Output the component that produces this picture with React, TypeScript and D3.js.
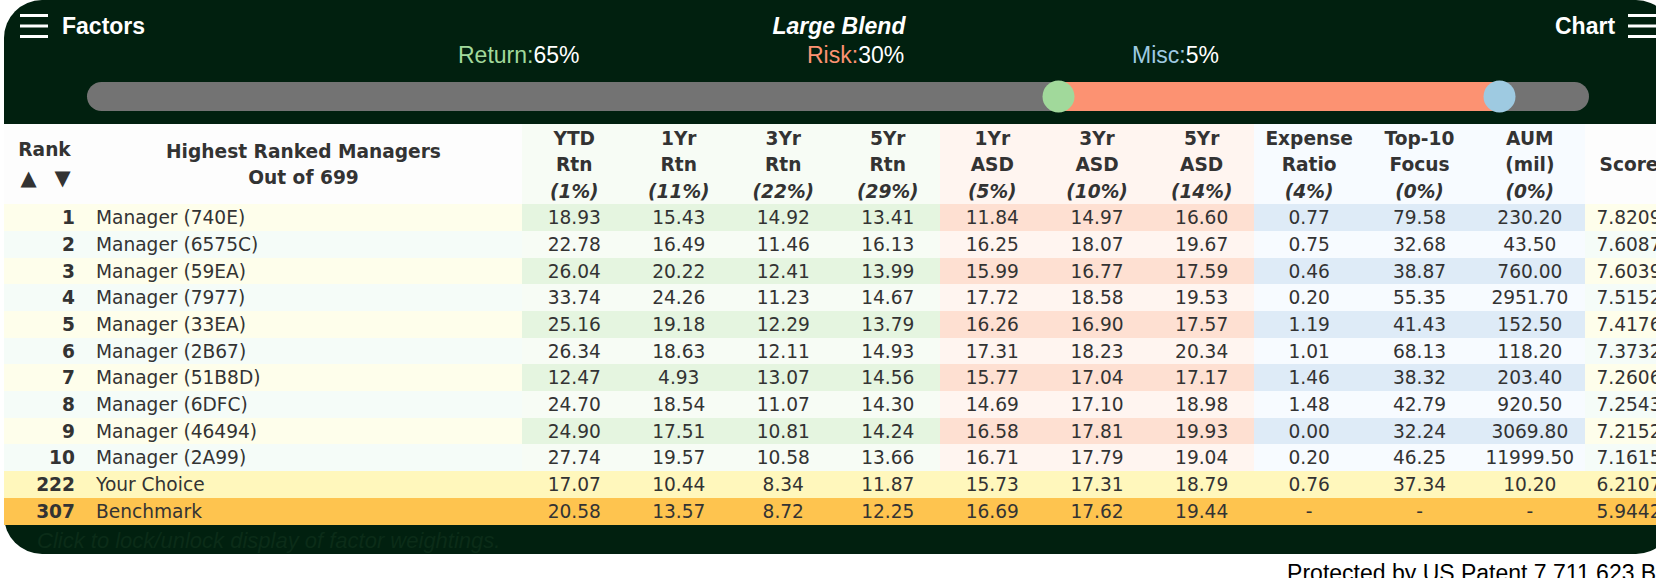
import React from 'react';
import * as d3 from 'd3';

// ---------- data ----------
const title = 'Large Blend';
const factorNames = ['Return', 'Risk', 'Misc'];
const factorWeights = [65, 30, 5];

const ranks = [1, 2, 3, 4, 5, 6, 7, 8, 9, 10, 222, 307];
const managers = [
  'Manager (740E)', 'Manager (6575C)', 'Manager (59EA)', 'Manager (7977)', 'Manager (33EA)',
  'Manager (2B67)', 'Manager (51B8D)', 'Manager (6DFC)', 'Manager (46494)', 'Manager (2A99)',
  'Your Choice', 'Benchmark',
];
const ytdRtn = [18.93, 22.78, 26.04, 33.74, 25.16, 26.34, 12.47, 24.70, 24.90, 27.74, 17.07, 20.58];
const rtn1 = [15.43, 16.49, 20.22, 24.26, 19.18, 18.63, 4.93, 18.54, 17.51, 19.57, 10.44, 13.57];
const rtn3 = [14.92, 11.46, 12.41, 11.23, 12.29, 12.11, 13.07, 11.07, 10.81, 10.58, 8.34, 8.72];
const rtn5 = [13.41, 16.13, 13.99, 14.67, 13.79, 14.93, 14.56, 14.30, 14.24, 13.66, 11.87, 12.25];
const asd1 = [11.84, 16.25, 15.99, 17.72, 16.26, 17.31, 15.77, 14.69, 16.58, 16.71, 15.73, 16.69];
const asd3 = [14.97, 18.07, 16.77, 18.58, 16.90, 18.23, 17.04, 17.10, 17.81, 17.79, 17.31, 17.62];
const asd5 = [16.60, 19.67, 17.59, 19.53, 17.57, 20.34, 17.17, 18.98, 19.93, 19.04, 18.79, 19.44];
const expenseRatio = [0.77, 0.75, 0.46, 0.20, 1.19, 1.01, 1.46, 1.48, 0.00, 0.20, 0.76, null];
const top10Focus = [79.58, 32.68, 38.87, 55.35, 41.43, 68.13, 38.32, 42.79, 32.24, 46.25, 37.34, null];
const aumMil = [230.20, 43.50, 760.00, 2951.70, 152.50, 118.20, 203.40, 920.50, 3069.80, 11999.50, 10.20, null];
const scores = [7.8209, 7.6087, 7.6039, 7.5152, 7.4176, 7.3732, 7.2606, 7.2543, 7.2152, 7.1615, 6.2107, 5.9442];

const returnHeaders = [['YTD', 'Rtn'], ['1Yr', 'Rtn'], ['3Yr', 'Rtn'], ['5Yr', 'Rtn']];
const returnWeights = [1, 11, 22, 29];
const riskHeaders = [['1Yr', 'ASD'], ['3Yr', 'ASD'], ['5Yr', 'ASD']];
const riskWeights = [5, 10, 14];
const miscHeaders = [['Expense', 'Ratio'], ['Top-10', 'Focus'], ['AUM', '(mil)']];
const miscWeights = [4, 0, 0];

// ---------- styling ----------
const PANEL = '#01200f';
const HEAD_FONT = '"Liberation Sans", Arial, sans-serif';
const TABLE_FONT = '"DejaVu Sans", Verdana, sans-serif';
const TXT = '#333333';
const FS = 18.6;

const factorColors = ['#a1d99b', '#fc9272', '#9ecae1'];
const stripe: Record<string, [string, string]> = {
  base: ['#fefeeb', '#f5fcf8'],
  ret: ['#e5f5e0', '#f7fcf5'],
  risk: ['#fee0d2', '#fff5f0'],
  misc: ['#deebf7', '#f7fbff'],
};
const headBg: Record<string, string> = {
  base: '#fdfdfd', ret: '#f7fcf5', risk: '#fff5f0', misc: '#f7fbff',
};
const choiceBg = '#fff7bc';
const benchBg = '#fec44f';

export default function App() {
  const W = 1656, H = 578;
  const tableTop = 124;
  const rowH = 26.7;
  const rowsTop = tableTop + 3 * rowH;
  const n = ranks.length;

  const yRow = d3.scaleBand<number>().domain(d3.range(n)).range([rowsTop, rowsTop + n * rowH]);
  const yHead = d3.scaleBand<number>().domain(d3.range(3)).range([tableTop, rowsTop]);

  const xRank: [number, number] = [4, 85];
  const xName: [number, number] = [85, 522];
  const xRet = d3.scaleBand<number>().domain(d3.range(4)).range([522, 940]);
  const xRisk = d3.scaleBand<number>().domain(d3.range(3)).range([940, 1254]);
  const xMisc = d3.scaleBand<number>().domain(d3.range(3)).range([1254, 1585]);
  const xScore: [number, number] = [1585, 1673];

  const columns = [
    ...[ytdRtn, rtn1, rtn3, rtn5].map((vals, i) => ({
      group: 'ret', x0: xRet(i)!, w: xRet.bandwidth(), head: returnHeaders[i], weight: returnWeights[i], vals, dec: 2,
    })),
    ...[asd1, asd3, asd5].map((vals, i) => ({
      group: 'risk', x0: xRisk(i)!, w: xRisk.bandwidth(), head: riskHeaders[i], weight: riskWeights[i], vals, dec: 2,
    })),
    ...[expenseRatio, top10Focus, aumMil].map((vals, i) => ({
      group: 'misc', x0: xMisc(i)!, w: xMisc.bandwidth(), head: miscHeaders[i], weight: miscWeights[i], vals, dec: 2,
    })),
  ];

  const rowBg = (i: number, group: string) => {
    if (managers[i] === 'Your Choice') return choiceBg;
    if (managers[i] === 'Benchmark') return benchBg;
    return stripe[group][i % 2];
  };

  const base = (c: number) => c + 6.7; // centre -> baseline

  // slider
  const trackL = 87, trackR = 1589, trackY = 82, trackH = 29, handleR = 16;
  const sx = d3.scaleLinear().domain([0, 100]).range([trackL + handleR, trackR - handleR]);
  const cum = d3.cumsum(factorWeights);
  const h1 = sx(cum[0]);
  const h2 = sx(cum[1]);
  const labelX = [458, 807, 1132];

  const hamburger = (x: number) => (
    <g stroke="#ffffff" strokeWidth={3}>
      {[15.5, 26, 36.5].map((yy) => (
        <line key={yy} x1={x} x2={x + 28} y1={yy} y2={yy} />
      ))}
    </g>
  );

  const groupSpans = [
    { g: 'base', x0: xRank[0], x1: xName[1] },
    { g: 'ret', x0: xRet.range()[0], x1: xRet.range()[1] },
    { g: 'risk', x0: xRisk.range()[0], x1: xRisk.range()[1] },
    { g: 'misc', x0: xMisc.range()[0], x1: xMisc.range()[1] },
    { g: 'base', x0: xScore[0], x1: xScore[1] },
  ];

  return (
    <div style={{ position: 'absolute', left: 0, top: 0, width: W, height: H, overflow: 'hidden', background: '#fff' }}>
      <svg width={W} height={H} style={{ display: 'block' }}>
        {/* panel */}
        <rect x={4} y={0} width={1670} height={554} rx={38} ry={38} fill={PANEL} />

        {/* header */}
        {hamburger(20)}
        <text x={62} y={33.5} fill="#fff" fontFamily={HEAD_FONT} fontWeight="bold" fontSize={23}>Factors</text>
        <text x={839} y={33.5} fill="#fff" fontFamily={HEAD_FONT} fontWeight="bold" fontStyle="italic" fontSize={23} textAnchor="middle">{title}</text>
        <text x={1555} y={33.5} fill="#fff" fontFamily={HEAD_FONT} fontWeight="bold" fontSize={23}>Chart</text>
        {hamburger(1628)}

        {factorNames.map((nm, i) => (
          <text key={nm} x={labelX[i]} y={63} fontFamily={HEAD_FONT} fontSize={23}>
            <tspan fill={factorColors[i]}>{nm}:</tspan>
            <tspan fill="#ffffff">{factorWeights[i]}%</tspan>
          </text>
        ))}

        {/* slider */}
        <rect x={trackL} y={trackY} width={trackR - trackL} height={trackH} rx={trackH / 2} fill="#737373" />
        <rect x={h1} y={trackY} width={h2 - h1} height={trackH} fill={factorColors[1]} />
        <circle cx={h1} cy={trackY + trackH / 2} r={handleR} fill={factorColors[0]} />
        <circle cx={h2} cy={trackY + trackH / 2} r={handleR} fill={factorColors[2]} />

        {/* table backing */}
        <g shapeRendering="crispEdges">
          <rect x={xRank[0]} y={tableTop} width={xScore[1] - xRank[0]} height={rowsTop + n * rowH - tableTop} fill="#fbfbfb" />
          {groupSpans.map((s, k) => (
            <rect key={k} x={s.x0} y={tableTop} width={s.x1 - s.x0} height={3 * rowH} fill={headBg[s.g]} />
          ))}
          {ranks.map((_, i) => {
            const y0 = yRow(i)!;
            return (
              <g key={i}>
                <rect x={xRank[0]} y={y0} width={xName[1] - xRank[0]} height={rowH} fill={rowBg(i, 'base')} />
                {columns.map((c, j) => (
                  <rect key={j} x={c.x0} y={y0} width={c.w} height={rowH} fill={rowBg(i, c.group)} />
                ))}
                <rect x={xScore[0]} y={y0} width={xScore[1] - xScore[0]} height={rowH} fill={rowBg(i, 'base')} />
              </g>
            );
          })}
        </g>

        {/* header text */}
        <g fontFamily={TABLE_FONT} fontSize={FS} fill={TXT} fontWeight="bold" textAnchor="middle">
          <text x={(xRank[0] + xRank[1]) / 2} y={base(149)}>Rank</text>
          <text x={28.5} y={base(178)} fontSize={21}>▲</text>
          <text x={62.5} y={base(178)} fontSize={21}>▼</text>
          <text x={(xName[0] + xName[1]) / 2} y={base(151)}>Highest Ranked Managers</text>
          <text x={(xName[0] + xName[1]) / 2} y={base(177.5)}>Out of 699</text>
          {columns.map((c, j) => (
            <g key={j}>
              <text x={c.x0 + c.w / 2} y={base(yHead(0)! + rowH / 2 + 0.8)}>{c.head[0]}</text>
              <text x={c.x0 + c.w / 2} y={base(yHead(1)! + rowH / 2 + 0.6)}>{c.head[1]}</text>
              <text x={c.x0 + c.w / 2} y={base(yHead(2)! + rowH / 2 + 1)} fontStyle="italic">({c.weight}%)</text>
            </g>
          ))}
          <text x={(xScore[0] + xScore[1]) / 2} y={base(yHead(1)! + rowH / 2 + 0.6)}>Score</text>
        </g>

        {/* rows text */}
        {ranks.map((rk, i) => {
          const y0 = yRow(i)!;
          const cy = y0 + rowH / 2;
          return (
            <g key={i} fontFamily={TABLE_FONT} fontSize={FS} fill={TXT}>
              <text x={xRank[1] - 10} y={base(cy)} textAnchor="end" fontWeight="bold">{rk}</text>
              <text x={xName[0] + 11} y={base(cy)}>{managers[i]}</text>
              {columns.map((c, j) => {
                const v = c.vals[i];
                return (
                  <text key={j} x={c.x0 + c.w / 2} y={base(cy)} textAnchor="middle">
                    {v === null || v === undefined ? '-' : d3.format(`.${c.dec}f`)(v)}
                  </text>
                );
              })}
              <text x={(xScore[0] + xScore[1]) / 2} y={base(cy)} textAnchor="middle">{d3.format('.4f')(scores[i])}</text>
            </g>
          );
        })}

        {/* footer */}
        <text x={37} y={548} fill="#0b2c18" fontFamily={HEAD_FONT} fontStyle="italic" fontSize={22}>
          Click to lock/unlock display of factor weightings.
        </text>
        <text x={1669} y={581} fill="#000" fontFamily={HEAD_FONT} fontSize={23} textAnchor="end">
          Protected by US Patent 7,711,623 B2
        </text>
      </svg>
    </div>
  );
}
